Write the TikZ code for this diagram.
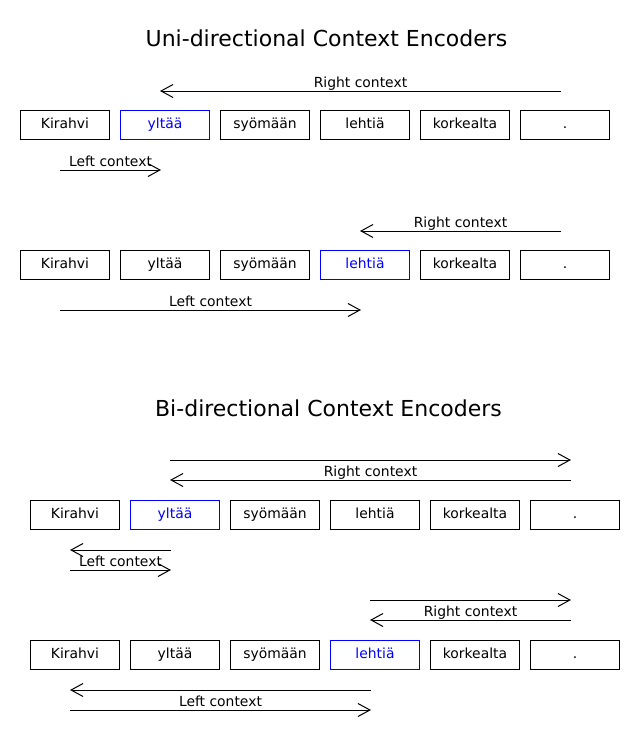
\documentclass[tikz,border=0pt]{standalone}
\usepackage{fontspec}
\setmainfont{DejaVu Sans}
\usetikzlibrary{arrows.meta}
\tikzset{
  wbox/.style={draw=black, line width=1pt, minimum width=89pt, minimum height=29pt, inner sep=0pt,
    font=\fontsize{13.9pt}{16pt}\selectfont, text height=10pt, text depth=2pt},
  hl/.style={draw=blue, text=blue},
  ctx/.style={line width=1pt, -{Straight Barb[length=12pt,width=13pt,line width=1pt]}},
  lbl/.style={font=\fontsize{13.9pt}{16pt}\selectfont, anchor=base, inner sep=0pt},
  ttl/.style={font=\fontsize{22pt}{26pt}\selectfont, anchor=base, inner sep=0pt}
}
\begin{document}
\begin{tikzpicture}[x=1pt,y=-1pt]
\useasboundingbox (0,0) rectangle (640,750);
% Titles
\node[ttl] (t1) at (326.5,46.3) {Uni-directional Context Encoders};
\node[ttl] (t2) at (328.5,416.3) {Bi-directional Context Encoders};

% ---------- Uni row 1 ----------
\node[wbox] (a1) at (65,124.5) {Kirahvi};
\node[wbox,hl] (a2) at (165,124.5) {yltää};
\node[wbox] (a3) at (265,124.5) {syömään};
\node[wbox] (a4) at (365,124.5) {lehtiä};
\node[wbox] (a5) at (465,124.5) {korkealta};
\node[wbox] (a6) at (565,124.5) {.};
\coordinate (ar1s) at (561,91); \coordinate (ar1e) at (160,91);
\draw[ctx] (ar1s) -- (ar1e);
\node[lbl] (ar1l) at (360.5,87) {Right context};
\coordinate (al1s) at (60,170); \coordinate (al1e) at (161,170);
\draw[ctx] (al1s) -- (al1e);
\node[lbl] (al1l) at (110.5,166) {Left context};

% ---------- Uni row 2 ----------
\node[wbox] (b1) at (65,264.5) {Kirahvi};
\node[wbox] (b2) at (165,264.5) {yltää};
\node[wbox] (b3) at (265,264.5) {syömään};
\node[wbox,hl] (b4) at (365,264.5) {lehtiä};
\node[wbox] (b5) at (465,264.5) {korkealta};
\node[wbox] (b6) at (565,264.5) {.};
\coordinate (br1s) at (561,231); \coordinate (br1e) at (360,231);
\draw[ctx] (br1s) -- (br1e);
\node[lbl] (br1l) at (460.5,227) {Right context};
\coordinate (bl1s) at (60,310); \coordinate (bl1e) at (361,310);
\draw[ctx] (bl1s) -- (bl1e);
\node[lbl] (bl1l) at (210.5,306) {Left context};

% ---------- Bi row 1 ----------
\node[wbox] (c1) at (75,514.5) {Kirahvi};
\node[wbox,hl] (c2) at (175,514.5) {yltää};
\node[wbox] (c3) at (275,514.5) {syömään};
\node[wbox] (c4) at (375,514.5) {lehtiä};
\node[wbox] (c5) at (475,514.5) {korkealta};
\node[wbox] (c6) at (575,514.5) {.};
\coordinate (cf1s) at (170,460); \coordinate (cf1e) at (571,460);
\draw[ctx] (cf1s) -- (cf1e);
\coordinate (cr1s) at (571,480); \coordinate (cr1e) at (170,480);
\draw[ctx] (cr1s) -- (cr1e);
\node[lbl] (cr1l) at (370.5,476) {Right context};
\coordinate (cb2s) at (171,550); \coordinate (cb2e) at (70,550);
\draw[ctx] (cb2s) -- (cb2e);
\coordinate (cl2s) at (70,570); \coordinate (cl2e) at (171,570);
\draw[ctx] (cl2s) -- (cl2e);
\node[lbl] (cl2l) at (120.5,566) {Left context};

% ---------- Bi row 2 ----------
\node[wbox] (d1) at (75,654.5) {Kirahvi};
\node[wbox] (d2) at (175,654.5) {yltää};
\node[wbox] (d3) at (275,654.5) {syömään};
\node[wbox,hl] (d4) at (375,654.5) {lehtiä};
\node[wbox] (d5) at (475,654.5) {korkealta};
\node[wbox] (d6) at (575,654.5) {.};
\coordinate (df1s) at (370,600); \coordinate (df1e) at (571,600);
\draw[ctx] (df1s) -- (df1e);
\coordinate (dr1s) at (571,620); \coordinate (dr1e) at (370,620);
\draw[ctx] (dr1s) -- (dr1e);
\node[lbl] (dr1l) at (470.5,616) {Right context};
\coordinate (db2s) at (371,690); \coordinate (db2e) at (70,690);
\draw[ctx] (db2s) -- (db2e);
\coordinate (dl2s) at (70,710); \coordinate (dl2e) at (371,710);
\draw[ctx] (dl2s) -- (dl2e);
\node[lbl] (dl2l) at (220.5,706) {Left context};
\end{tikzpicture}
\end{document}
